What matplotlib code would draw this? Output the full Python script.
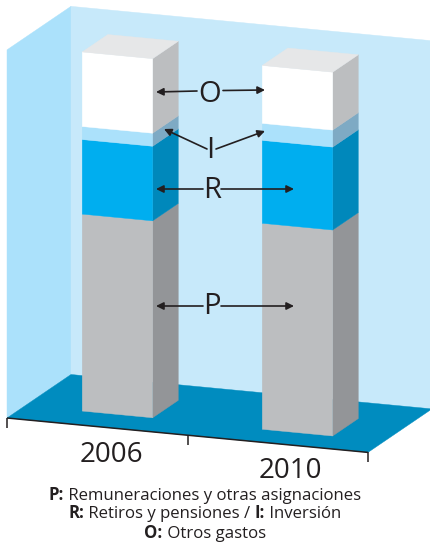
import matplotlib
matplotlib.use("Agg")
import matplotlib.pyplot as plt
from matplotlib.patches import Polygon

plt.rcParams['font.family'] = ['Open Sans', 'DejaVu Sans']

# values, bottom to top: P, R, I, O
years = ['2006', '2010']
rem_p = [54.4, 56.9]
ret_r = [20.6, 22.9]
inv_i = [3.6, 4.7]
otr_o = [20.6, 16.0]

front_cols = ['#bcbec0', '#00aeef', '#abe1fb', '#ffffff']
side_cols = ['#939598', '#0088bb', '#7eaac4', '#bcbec0']
top_col = '#e6e7e8'
ink = '#231f20'

# oblique projection: u along the floor, d into the picture, v up the bars
def proj(u, d, v):
    return (7 + 180.5 * u + 64 * d, 418 + 17.2 * u - 43.5 * d - 3.62 * v)

def quad(ax, pts, col, z=1):
    ax.add_patch(Polygon([proj(*p) for p in pts], closed=True, fc=col, ec=col, lw=0.3, zorder=z))

fig = plt.figure(figsize=(4.3, 5.44), dpi=100)
ax = fig.add_axes([0, 0, 1, 1])
ax.set_xlim(0, 430)
ax.set_ylim(544, 0)
ax.axis('off')

# walls and floor
wall = 101.7
quad(ax, [(0, 0, 0), (0, 1, 0), (0, 1, wall), (0, 0, wall)], '#abe1fb')
quad(ax, [(0, 1, 0), (2, 1, 0), (2, 1, wall), (0, 1, wall)], '#c7e9fa')
quad(ax, [(0, 0, 0), (2, 0, 0), (2, 1, 0), (0, 1, 0)], '#008cbf')

# bars
bar_u = [0.316, 1.321]
bar_d = [0.2845, 0.263]
bw = 0.39
bd = 0.4
for i in range(2):
    u, d = bar_u[i], bar_d[i]
    base = 0
    for vals, fc, sc in zip([rem_p, ret_r, inv_i, otr_o], front_cols, side_cols):
        top = base + vals[i]
        quad(ax, [(u + bw, d, base), (u + bw, d + bd, base), (u + bw, d + bd, top), (u + bw, d, top)], sc, 2)
        quad(ax, [(u, d, base), (u + bw, d, base), (u + bw, d, top), (u, d, top)], fc, 2)
        base = top
    quad(ax, [(u, d, base), (u + bw, d, base), (u + bw, d + bd, base), (u, d + bd, base)], top_col, 2)

# front axis line and ticks
x0, y0 = proj(0, 0, 0)
x1, y1 = proj(2, 0, 0)
ax.plot([x0, x1], [y0, y1], color=ink, lw=1.1, zorder=3, solid_capstyle='butt')
for t in range(3):
    x, y = proj(t, 0, 0)
    ax.plot([x, x], [y, y + 10], color=ink, lw=1.1, zorder=3, solid_capstyle='butt')

ax.text(111, 455, years[0], ha='center', va='center', fontsize=20, color=ink)
ax.text(290, 471, years[1], ha='center', va='center', fontsize=20, color=ink)

# letters with their arrows
letters = [('O', 210, 94), ('I', 210, 151), ('R', 212, 191), ('P', 212, 307)]
for s, x, y in letters:
    ax.text(x, y, s, ha='center', va='center', fontsize=21, color=ink, zorder=5)

arrows = [((197, 91), (156, 92)), ((223, 90.5), (265, 90)),
          ((207, 149), (164, 129)), ((216, 149), (265, 131)),
          ((203, 189), (156, 189)), ((221, 189), (294, 189)),
          ((203, 306), (156, 306)), ((221, 306), (294, 306))]
for tail, tip in arrows:
    ax.annotate('', xy=tip, xytext=tail, zorder=5,
                arrowprops=dict(arrowstyle='-|>', color=ink, lw=1.2, mutation_scale=11,
                                shrinkA=0, shrinkB=0))

# caption, bold key followed by regular text, each line centred by measuring
caption = [[('P:', 'bold'), (' Remuneraciones y otras asignaciones', 'normal')],
           [('R:', 'bold'), (' Retiros y pensiones / ', 'normal'), ('I:', 'bold'), (' Inversión', 'normal')],
           [('O:', 'bold'), (' Otros gastos', 'normal')]]
cap_y = [499.5, 518.5, 537.5]
rend = fig.canvas.get_renderer()
for parts, y in zip(caption, cap_y):
    texts = [ax.text(0, y, s.replace(' ', '\u00a0'), fontweight=w, fontsize=12.1, color=ink, ha='left', va='baseline')
             for s, w in parts]
    widths = [t.get_window_extent(rend).width for t in texts]
    x = 205 - sum(widths) / 2
    for t, w in zip(texts, widths):
        t.set_x(x)
        x += w

fig.savefig('out.png', dpi=100)
